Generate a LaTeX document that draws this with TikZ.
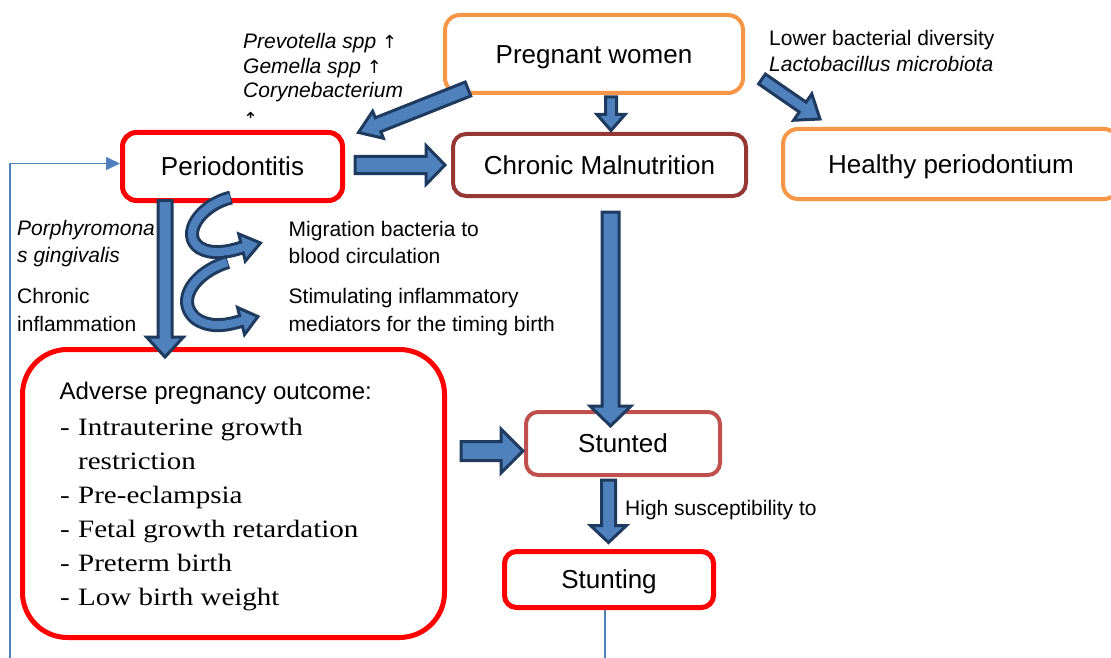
\documentclass[tikz,border=0pt]{standalone}
\usepackage{fontspec}
\setmainfont{Liberation Sans}
\newfontfamily\listserif[FakeStretch=1.16]{Liberation Serif}
\newfontfamily\arrowfont{DejaVu Sans}
\usetikzlibrary{calc,arrows.meta}
\definecolor{orangeb}{HTML}{F79646}
\definecolor{redb}{HTML}{FF0000}
\definecolor{darkredb}{HTML}{953735}
\definecolor{stredb}{HTML}{C0504D}
\definecolor{blfill}{HTML}{4F81BD}
\definecolor{navyb}{HTML}{1F3A5F}
\newcommand{\blockarrow}[5]{%
  \coordinate (ba) at #1;
  \coordinate (bb) at #2;
  \coordinate (bc) at ($(bb)!#5pt!(ba)$);
  \draw[blockarr] ($(ba)!#3pt!90:(bb)$) -- ($(bc)!#3pt!90:(bb)$) -- ($(bc)!#4pt!90:(bb)$) -- (bb)
     -- ($(bc)!#4pt!-90:(bb)$) -- ($(bc)!#3pt!-90:(bb)$) -- ($(ba)!#3pt!-90:(bb)$) -- cycle;}
\newcommand{\uparr}{{\arrowfont\fontsize{18}{24}\selectfont ↑}}
\begin{document}
\begin{tikzpicture}[x=1pt,y=-1pt,
  box/.style={draw, rounded corners=13pt, fill=white, font=\fontsize{26}{30}\selectfont, inner sep=0pt, text height=18.5pt, text depth=0pt},
  small/.style={font=\fontsize{21}{24}\selectfont, anchor=base west, inner sep=0pt},
  listtxt/.style={font=\listserif\fontsize{25}{30}\selectfont, anchor=base west, inner sep=0pt},
  blockarr/.style={draw=navyb, fill=blfill, line width=3pt, line join=miter},
  thinline/.style={draw=blfill, line width=1.5pt}]
\useasboundingbox (0,0) rectangle (1111,658);

% boxes
\node[box, draw=orangeb, line width=4pt, rounded corners=15pt, minimum width=298pt, minimum height=78pt] (pw) at (594,54) {Pregnant women};
\node[box, draw=redb, line width=5pt, rounded corners=14pt, minimum width=220pt, minimum height=68pt] (perio) at (232.5,166.5) {Periodontitis};
\node[box, draw=darkredb, line width=4pt, rounded corners=13pt, minimum width=293pt, minimum height=62pt] (chr) at (599.5,165) {Chronic Malnutrition};
\node[box, draw=orangeb, line width=4pt, rounded corners=15pt, minimum width=336pt, minimum height=70pt] (hp) at (951,164) {Healthy periodontium};
\node[box, draw=redb, line width=5pt, rounded corners=45pt, minimum width=422pt, minimum height=288pt] (adv) at (233.5,493.5) {};
\node[box, draw=stredb, line width=4pt, rounded corners=12pt, minimum width=194pt, minimum height=63pt] (sted) at (623,443.5) {Stunted};
\node[box, draw=redb, line width=5pt, rounded corners=12pt, minimum width=209pt, minimum height=56pt] (sting) at (609,579.5) {Stunting};

% adverse box content
\node[font=\fontsize{24}{28}\selectfont, anchor=base west, inner sep=0pt] (advt) at (59.5,399.5) {Adverse pregnancy outcome:};
\node[listtxt] (d1) at (60,435) {-};
\node[listtxt] (l1) at (78,435) {Intrauterine growth};
\node[listtxt] (l1b) at (78,469) {restriction};
\node[listtxt] (d2) at (60,503) {-};
\node[listtxt] (l2) at (78,503) {Pre-eclampsia};
\node[listtxt] (d3) at (60,537) {-};
\node[listtxt] (l3) at (78,537) {Fetal growth retardation};
\node[listtxt] (d4) at (60,571) {-};
\node[listtxt] (l4) at (78,571) {Preterm birth};
\node[listtxt] (d5) at (60,605) {-};
\node[listtxt] (l5) at (78,605) {Low birth weight};

% small labels
\begin{scope}
\clip (230,20) rectangle (430,118);
\node[small, font=\fontsize{21}{24}\selectfont\itshape] (pv1) at (243,49) {Prevotella spp \uparr};
\node[small, font=\fontsize{21}{24}\selectfont\itshape] (pv2) at (243,73.5) {Gemella spp \uparr};
\node[small, font=\fontsize{21}{24}\selectfont\itshape] (pv3) at (243,98) {Corynebacterium};
\node[small, font=\fontsize{21}{24}\selectfont\itshape] (pv4) at (243,126) {\uparr};
\end{scope}
\node[small] (lb1) at (769,46) {Lower bacterial diversity};
\node[small, font=\fontsize{21}{24}\selectfont\itshape] (lb2) at (769,71.5) {Lactobacillus microbiota};
\node[small, font=\fontsize{21}{24}\selectfont\itshape] (pg1) at (17,235.5) {Porphyromona};
\node[small, font=\fontsize{21}{24}\selectfont\itshape] (pg2) at (17,262.5) {s gingivalis};
\node[small] (ci1) at (17,303.5) {Chronic};
\node[small] (ci2) at (17,331) {inflammation};
\node[small] (mg1) at (288.5,236) {Migration bacteria to};
\node[small] (mg2) at (288.5,263.5) {blood circulation};
\node[small] (st1) at (288.5,303.5) {Stimulating inflammatory};
\node[small] (st2) at (288.5,331) {mediators for the timing birth};
\node[small] (hs) at (625,515) {High susceptibility to};

% thin connectors
\coordinate (lbot) at (10,658);
\coordinate (sbot) at (605,658);
\draw[thinline, -{Triangle[length=14pt,width=13pt]}] (lbot) |- ([yshift=3pt]perio.west);
\draw[thinline] (sting.south -| sbot) -- (sbot);

% block arrows
\blockarrow{($(pw.south west)+(25,-6)$)}{($(perio.north east)+(13.5,2.5)$)}{7.5}{14.5}{21}
\blockarrow{($(pw.south)+(17,2)$)}{($(chr.north)+(11.5,-1.5)$)}{5.5}{14}{16}
\blockarrow{($(pw.east)+(17,25)$)}{($(hp.north west)+(39,-8)$)}{6}{16}{21}
\blockarrow{($(perio.east)+(10,-1.5)$)}{($(chr.west)+(-6,0)$)}{8.5}{19.5}{19}
\blockarrow{($(perio.south)+(-67.5,-2.5)$)}{($(adv.north)+(-68.5,10)$)}{7}{18.5}{20}
\blockarrow{($(chr.south)+(11,14)$)}{($(sted.north)+(-12.5,16)$)}{8.5}{20.5}{20}
\blockarrow{($(adv.east)+(14,-42.5)$)}{($(sted.west)+(-1,7.5)$)}{9.5}{22}{22}
\blockarrow{($(sted.south)+(-14.5,3)$)}{($(sting.north)+(-0.5,-6.5)$)}{7}{18}{17}

% curved arrows
\coordinate (c1s) at ($(perio.south)+(-1.5,-5.5)$);
\coordinate (c1e) at (242,247.5);
\coordinate (c1t) at ($(mg2.west)+(-28,-13)$);
\draw[navyb, line width=14pt] (c1s) .. controls (200,205) and (180,235) .. (200,248) .. controls (212,255) and (228,252) .. (c1e);
\draw[blockarr] ($(c1e)!14pt!90:(c1t)$) -- (c1t) -- ($(c1e)!14pt!-90:(c1t)$) -- cycle;
\draw[blfill, line width=8pt] ($(c1s)!1pt!(200,205)$) .. controls (200,205) and (180,235) .. (200,248) .. controls (212,255) and (228,252) .. (c1e) -- ($(c1e)!3pt!(c1t)$);

\coordinate (c2s) at (228,262);
\coordinate (c2e) at (241,321);
\coordinate (c2t) at ($(st2.west)+(-30.5,-9)$);
\draw[navyb, line width=14pt] (c2s) .. controls (195,272) and (175,300) .. (195,318) .. controls (208,328) and (225,326) .. (c2e);
\draw[blockarr] ($(c2e)!14pt!90:(c2t)$) -- (c2t) -- ($(c2e)!14pt!-90:(c2t)$) -- cycle;
\draw[blfill, line width=8pt] ($(c2s)!1pt!(195,272)$) .. controls (195,272) and (175,300) .. (195,318) .. controls (208,328) and (225,326) .. (c2e) -- ($(c2e)!3pt!(c2t)$);
\end{tikzpicture}
\end{document}
